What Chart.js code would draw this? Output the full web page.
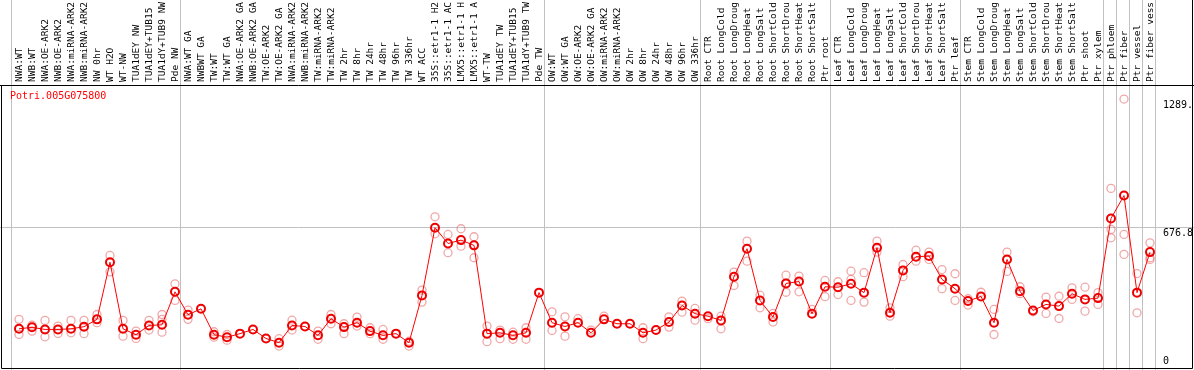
<!DOCTYPE html>
<html>
<head>
<meta charset="utf-8">
<script src="https://cdn.jsdelivr.net/npm/chart.js@4.4.0/dist/chart.umd.min.js"></script>
<style>
  html, body { margin: 0; padding: 0; background: #fff; }
  canvas { display: block; }
</style>
</head>
<body>
<canvas id="myChart" width="1194" height="370"></canvas>
<script>
// sample names, as printed on top (long names are cut off by the image edge)
const labels = [
  'NWA:WT', 'NWB:WT', 'NWA:OE-ARK2', 'NWB:OE-ARK2', 'NWA:miRNA-ARK2', 'NWB:miRNA-ARK2', 'NW 0hr', 'WT H2O', 'WT-NW',
  'TUA1dEY NW', 'TUA1dEY+TUB15', 'TUA1dY+TUB9 NW', 'Pde NW',
  'NWA:WT GA', 'NWBWT GA', 'TW:WT', 'TW:WT GA', 'NWA:OE-ARK2 GA', 'NWB:OE-ARK2 GA', 'TW:OE-ARK2', 'TW:OE-ARK2 GA',
  'NWA:miRNA-ARK2', 'NWB:miRNA-ARK2', 'TW:miRNA-ARK2', 'TW:miRNA-ARK2', 'TW 2hr', 'TW 8hr', 'TW 24hr', 'TW 48hr',
  'TW 96hr', 'TW 336hr', 'WT ACC', '35S::etr1-1 H2', '35S::etr1-1 AC', 'LMX5::etr1-1 H', 'LMX5::etr1-1 A', 'WT-TW',
  'TUA1dEY TW', 'TUA1dEY+TUB15', 'TUA1dY+TUB9 TW', 'Pde TW',
  'OW:WT', 'OW:WT GA', 'OW:OE-ARK2', 'OW:OE-ARK2 GA', 'OW:miRNA-ARK2', 'OW:miRNA-ARK2', 'OW 2hr', 'OW 8hr', 'OW 24hr',
  'OW 48hr', 'OW 96hr', 'OW 336hr',
  'Root CTR', 'Root LongCold', 'Root LongDroug', 'Root LongHeat', 'Root LongSalt', 'Root ShortCold', 'Root ShortDrou',
  'Root ShortHeat', 'Root ShortSalt', 'Ptr root',
  'Leaf CTR', 'Leaf LongCold', 'Leaf LongDroug', 'Leaf LongHeat', 'Leaf LongSalt', 'Leaf ShortCold', 'Leaf ShortDrou',
  'Leaf ShortHeat', 'Leaf ShortSalt', 'Ptr leaf',
  'Stem CTR', 'Stem LongCold', 'Stem LongDroug', 'Stem LongHeat', 'Stem LongSalt', 'Stem ShortCold', 'Stem ShortDrou',
  'Stem ShortHeat', 'Stem ShortSalt', 'Ptr shoot', 'Ptr xylem',
  'Ptr phloem', 'Ptr fiber', 'Ptr vessel', 'Ptr fiber vess'
];

// mean expression per sample (the red line)
const means = [
  196, 203, 193, 193, 196, 206, 241, 513, 196, 168, 212, 215, 372,
  263, 291, 168, 156, 173, 193, 150, 130, 212, 207, 165, 244, 204, 225, 185, 165, 173, 130, 355, 677, 602, 618, 593, 173, 177, 165, 177, 368,
  225, 207, 225, 177, 241, 220, 220, 177, 190, 228, 307, 268,
  256, 236, 444, 577, 331, 252, 412, 421, 268, 396,
  394, 410, 368, 582, 272, 474, 539, 542, 431, 387,
  328, 350, 225, 526, 375, 283, 312, 304, 363, 336, 342,
  721, 830, 368, 561
];

// replicate values (pale circles)
const repHigh = [
  241, 213, 236, 209, 236, 236, 264, 545, 236, 185, 236, 264, 410,
  285, null, 182, 169, null, null, null, 149, 237, null, 185, 264, 220, 252, 201, 193, null, 137, 380, 729, 645, 672, 634, 209, 190, 180, 201, null,
  277, 253, 244, 190, 256, null, null, 201, null, 253, 328, 293,
  null, 256, 466, 613, 356, 269, 451, 447, 288, 426,
  420, 470, 463, 613, 296, 502, 570, 561, 478, 458,
  339, 370, 288, 561, 396, 277, 347, 351, 391, 394, 368,
  864, 1289, 459, 605
];
const repLow = [
  169, 185, 158, 174, 177, 173, 225, 467, 161, 150, 190, 180, 331,
  241, null, 156, 142, null, null, null, 114, 190, null, 146, 220, 173, 209, 173, 146, null, 114, 323, 648, 558, 589, 534, 135, 149, 146, 146, null,
  188, 161, null, null, null, null, null, 149, null, 204, 275, 237,
  244, 196, 402, 518, 296, 228, 370, 372, null, 349,
  359, 331, 323, 561, 256, 444, 518, 526, 387, 331,
  309, null, 169, 469, 363, null, 269, 245, 336, 280, 312,
  629, 550, 272, 534
];
const repMid = [
  null, null, null, null, null, null, null, null, null, null, null, 241, null,
  null, null, null, null, null, null, null, null, null, null, null, null, null, null, null, null, null, null, null, null, null, null, null, null, null, null, null, null,
  null, null, null, null, null, null, null, null, null, null, null, null,
  null, null, null, null, null, null, null, null, null, null,
  null, 431, null, null, null, null, null, null, null, null,
  null, null, null, null, null, null, null, null, null, null, null,
  669, 645, null, 526
];

// first sample of each block (grey separators)
const groupStarts = [0, 13, 41, 53, 63, 73, 84, 85, 86, 87, 88];
const yTicks = [0, 676.8, 1289];
const yTickLabels = ['0', '676.8', '1289.'];
const geneName = 'Potri.005G075800';

const monoFont = '"DejaVu Sans Mono", monospace';

function toPoints(arr) {
  const pts = [];
  arr.forEach((v, i) => { if (v !== null) pts.push({ x: i, y: v }); });
  return pts;
}

const repPoints = toPoints(repHigh).concat(toPoints(repLow), toPoints(repMid));

// 외곽선, 유전자 이름, y축 값 표시
const framePlugin = {
  id: 'frame',
  afterDraw(chart) {
    const c = chart.ctx;
    const area = chart.chartArea;
    const yScale = chart.scales.y;
    c.save();
    c.font = '10px ' + monoFont;
    c.textBaseline = 'top';
    c.fillStyle = '#ff0000';
    c.fillText(geneName, 10, area.top + 6);

    c.fillStyle = '#000';
    yTicks.forEach((v, k) => {
      let y = yScale.getPixelForValue(v) + 1;
      if (y > area.bottom - 14) y = area.bottom - 14;
      c.fillText(yTickLabels[k], area.right - 31, y);
    });

    c.strokeStyle = '#000';
    c.lineWidth = 1;
    c.beginPath();
    c.moveTo(1.5, area.top);
    c.lineTo(1.5, area.bottom - 1.5);
    c.lineTo(area.right - 1.5, area.bottom - 1.5);
    c.lineTo(area.right - 1.5, 0);
    c.stroke();
    c.restore();
  }
};

const ctx = document.getElementById('myChart');
const chart = new Chart(ctx, {
  type: 'line',
  data: {
    datasets: [
      {
        data: means.map((v, i) => ({ x: i, y: v })),
        borderColor: '#ff0000',
        borderWidth: 1,
        tension: 0,
        pointRadius: 4,
        pointBorderWidth: 2,
        pointBorderColor: '#ee0000',
        pointBackgroundColor: 'rgba(0,0,0,0)',
        order: 0,
      },
      {
        data: repPoints,
        showLine: false,
        pointRadius: 4,
        pointBorderWidth: 1.3,
        pointBorderColor: 'rgba(230, 110, 110, 0.6)',
        pointBackgroundColor: 'rgba(0,0,0,0)',
        order: 1,
      },
    ],
  },
  options: {
    responsive: false,
    animation: false,
    devicePixelRatio: 1,
    layout: { padding: 0, autoPadding: false },
    plugins: { legend: { display: false }, tooltip: { enabled: false } },
    scales: {
      x: {
        type: 'linear',
        position: 'top',
        min: -19 / 13,
        max: 1175 / 13,
        afterBuildTicks: (scale) => {
          const t = labels.map((l, i) => ({ value: i }));
          groupStarts.forEach(g => t.push({ value: g - 0.6 }));
          scale.ticks = t;
        },
        afterFit: (scale) => {
          scale.height = 85;
          scale.paddingLeft = 0;
          scale.paddingRight = 0;
        },
        ticks: {
          autoSkip: false,
          minRotation: 90,
          maxRotation: 90,
          padding: -82,
          labelOffset: 12,
          color: '#000',
          font: { family: monoFont, size: 9.5 },
          callback: (value) => Number.isInteger(value) ? labels[value] : '',
        },
        grid: {
          drawOnChartArea: true,
          drawTicks: true,
          tickLength: 85,
          lineWidth: 1,
          color: (c) => (c.tick && !Number.isInteger(c.tick.value)) ? '#c0c0c0' : 'rgba(0,0,0,0)',
        },
        border: { display: true, color: '#000', width: 1 },
      },
      y: {
        type: 'linear',
        position: 'right',
        min: 0,
        max: 1356,
        afterBuildTicks: (scale) => { scale.ticks = [{ value: 676.8 }]; },
        afterFit: (scale) => { scale.width = 0; },
        ticks: { display: false },
        grid: { color: '#c0c0c0', lineWidth: 1, drawTicks: false },
        border: { display: false },
      },
    },
  },
  plugins: [framePlugin],
});
</script>
</body>
</html>
